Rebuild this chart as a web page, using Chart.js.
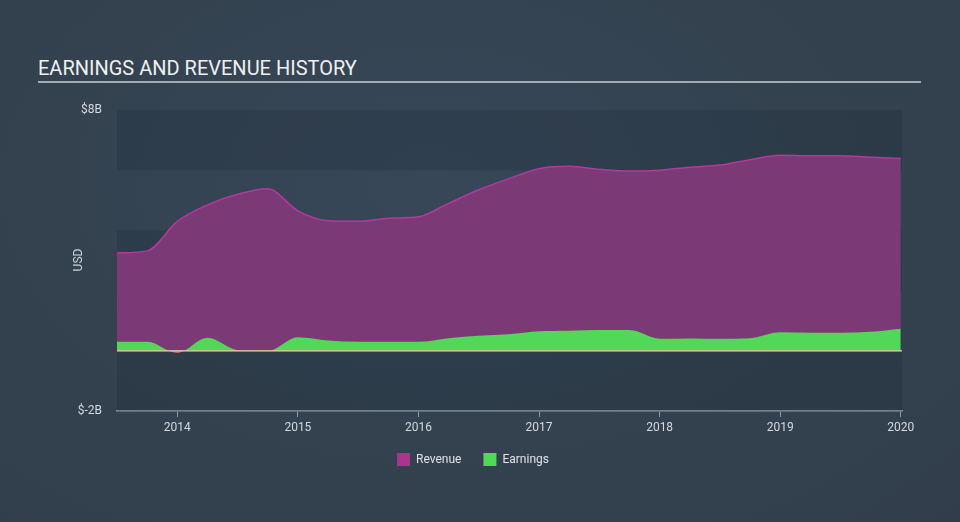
<!DOCTYPE html>
<html lang="en">
<head>
    <meta charset="UTF-8">
    <title>Earnings and Revenue History</title>
    <style>
        body {
            margin: 0;
            padding: 0;
            width: 960px;
            height: 522px;
            overflow: hidden;
            font-family: Roboto, Arial, sans-serif;
            background: radial-gradient(ellipse at 45% 35%, #374758 0%, #34424f 55%, #313d4a 100%);
        }
        #title {
            position: absolute;
            left: 38px;
            top: 56px;
            width: 883px;
            font-size: 20px;
            line-height: 24px;
            color: #eef0f2;
            padding-bottom: 1px;
            border-bottom: 2px solid #a3abb4;
        }
        #chart {
            position: absolute;
            left: 0;
            top: 0;
        }
    </style>
</head>
<body>
    <div id="title">EARNINGS AND REVENUE HISTORY</div>
    <canvas id="chart" width="960" height="522"></canvas>

    <script src="https://cdn.jsdelivr.net/npm/chart.js"></script>
    <script>
        // quarter ends as decimal years
        const periods = [
            2013.5, 2013.75, 2014.0, 2014.25, 2014.5, 2014.75, 2015.0, 2015.25, 2015.5,
            2015.75, 2016.0, 2016.25, 2016.5, 2016.75, 2017.0, 2017.25, 2017.5, 2017.75,
            2018.0, 2018.25, 2018.5, 2018.75, 2019.0, 2019.25, 2019.5, 2019.75, 2020.0
        ];
        // USD billions
        const revenue = [
            3.25, 3.32, 4.3, 4.85, 5.2, 5.38, 4.65, 4.32, 4.3,
            4.4, 4.45, 4.9, 5.35, 5.72, 6.05, 6.13, 6.03, 5.97,
            6.0, 6.1, 6.17, 6.35, 6.5, 6.48, 6.48, 6.43, 6.39
        ];
        const earnings = [
            0.3, 0.3, -0.07, 0.43, 0.02, -0.01, 0.45, 0.34, 0.3,
            0.3, 0.3, 0.42, 0.5, 0.55, 0.65, 0.67, 0.69, 0.69,
            0.4, 0.41, 0.4, 0.42, 0.62, 0.6, 0.6, 0.63, 0.73
        ];
        const yearTicks = [2014, 2015, 2016, 2017, 2018, 2019, 2020];
        const yMin = -2;
        const yMax = 8;

        const toPoints = values => periods.map((p, i) => ({ x: p, y: values[i] }));

        const bandsPlugin = {
            id: 'bands',
            beforeDatasetsDraw(chart) {
                const { ctx, chartArea, scales } = chart;
                ctx.save();
                for (let v = yMax; v > yMin; v -= 2) {
                    const top = scales.y.getPixelForValue(v);
                    const bottom = scales.y.getPixelForValue(v - 2);
                    const dark = ((yMax - v) / 2) % 2 === 0;
                    ctx.fillStyle = dark ? 'rgba(25, 35, 48, 0.22)' : 'rgba(255, 255, 255, 0)';
                    ctx.fillRect(chartArea.left, top, chartArea.right - chartArea.left, bottom - top);
                }
                ctx.restore();
            },
            afterDatasetsDraw(chart) {
                const { ctx, chartArea, scales } = chart;
                const y0 = scales.y.getPixelForValue(0);
                ctx.save();
                ctx.strokeStyle = '#eadcab';
                ctx.lineWidth = 1.2;
                ctx.beginPath();
                ctx.moveTo(chartArea.left, y0);
                ctx.lineTo(chartArea.right, y0);
                ctx.stroke();
                // rotated axis label
                ctx.fillStyle = '#cfd4da';
                ctx.font = '12px Roboto, Arial, sans-serif';
                ctx.textAlign = 'center';
                ctx.textBaseline = 'middle';
                ctx.translate(79, 260);
                ctx.rotate(-Math.PI / 2);
                ctx.fillText('USD', 0, 0);
                ctx.restore();
            }
        };

        new Chart(document.getElementById('chart'), {
            type: 'line',
            data: {
                datasets: [
                    {
                        label: 'Revenue',
                        data: toPoints(revenue),
                        borderColor: '#b4399e',
                        backgroundColor: '#7b3a76',
                        borderWidth: 1.5,
                        pointRadius: 0,
                        cubicInterpolationMode: 'monotone',
                        fill: 'origin',
                        order: 1
                    },
                    {
                        label: 'Earnings',
                        data: toPoints(earnings),
                        borderColor: 'rgba(82, 216, 88, 0)',
                        backgroundColor: '#52d858',
                        borderWidth: 0,
                        pointRadius: 0,
                        cubicInterpolationMode: 'monotone',
                        fill: { target: 'origin', above: '#52d858', below: '#e5524f' },
                        order: 0
                    }
                ]
            },
            options: {
                responsive: false,
                animation: false,
                layout: { padding: { left: 44, right: 58, top: 110, bottom: 46 } },
                scales: {
                    x: {
                        type: 'linear',
                        min: 2013.5,
                        max: 2020.01,
                        afterBuildTicks: scale => {
                            scale.ticks = yearTicks.map(v => ({ value: v }));
                        },
                        afterFit: scale => { scale.height = 20; },
                        ticks: {
                            color: '#d5d9de',
                            font: { family: 'Roboto', size: 12 },
                            padding: 4,
                            maxRotation: 0,
                            callback: v => String(v)
                        },
                        grid: {
                            display: true,
                            drawOnChartArea: false,
                            drawTicks: true,
                            tickLength: 6,
                            color: '#8d99a6'
                        },
                        border: { display: true, color: '#8d99a6', width: 1.5 }
                    },
                    y: {
                        min: yMin,
                        max: yMax,
                        afterFit: scale => { scale.width = 73; },
                        ticks: {
                            stepSize: 2,
                            color: '#d5d9de',
                            font: { family: 'Roboto', size: 12 },
                            padding: 15,
                            callback: v => (v === yMax || v === yMin) ? '$' + v + 'B' : ''
                        },
                        grid: { display: false, drawTicks: false },
                        border: { display: false }
                    }
                },
                plugins: {
                    legend: {
                        position: 'bottom',
                        labels: {
                            color: '#dfe2e6',
                            font: { family: 'Roboto', size: 12 },
                            boxWidth: 13,
                            boxHeight: 13,
                            padding: 22,
                            generateLabels: chart => chart.data.datasets.map((ds, i) => ({
                                text: ds.label,
                                fillStyle: i === 0 ? '#a8368f' : '#52d858',
                                strokeStyle: 'transparent',
                                lineWidth: 0,
                                fontColor: '#dfe2e6',
                                datasetIndex: i
                            }))
                        }
                    },
                    tooltip: { enabled: false }
                }
            },
            plugins: [bandsPlugin]
        });
    </script>
</body>
</html>
